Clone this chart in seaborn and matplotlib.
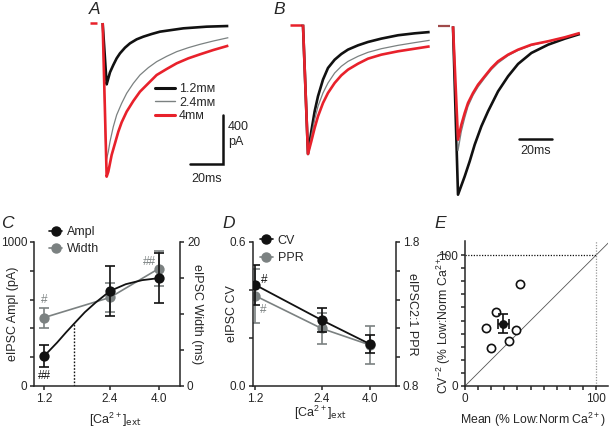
import numpy as np
import pandas as pd
import matplotlib
matplotlib.use('Agg')
import matplotlib.pyplot as plt
import seaborn as sns
from matplotlib.lines import Line2D

sns.set_theme(style='ticks')
plt.rcParams['font.family'] = ['Liberation Sans', 'DejaVu Sans']
plt.rcParams['mathtext.default'] = 'regular'
plt.rcParams['axes.linewidth'] = 1.1
plt.rcParams['xtick.major.width'] = 1.1
plt.rcParams['ytick.major.width'] = 1.1
plt.rcParams['xtick.major.size'] = 3.0
plt.rcParams['ytick.major.size'] = 3.0
plt.rcParams['xtick.labelsize'] = 8.5
plt.rcParams['ytick.labelsize'] = 8.5
plt.rcParams['axes.labelsize'] = 9

BLACK = '#111111'
GRAY = '#7b8181'
RED = '#e8212b'

# ---------------- data ----------------
# Panel A example traces (time ms, current pA)
a_t_12 = [-0.2, 2.22, 3.23, 4.24, 6.26, 8.28, 10.30, 13.33, 16.36, 20.40, 24.44,
          29.49, 34.55, 41.62, 48.69, 62.83, 75.96]
a_i_12 = [0, -500.7, -451.7, -402.7, -342.8, -288.4, -247.6, -201.4, -166.0,
          -133.3, -111.6, -89.8, -70.7, -57.1, -43.5, -29.9, -24.5]
a_t_24 = [-0.2, 1.82, 3.23, 4.24, 6.26, 8.28, 11.31, 14.34, 18.38, 22.42, 27.47,
          32.53, 38.59, 44.65, 51.72, 58.79, 66.87, 75.96]
a_i_24 = [0, -1131.9, -1050.3, -968.7, -846.2, -751.0, -655.8, -574.1, -492.5,
          -424.5, -364.6, -315.6, -272.1, -234.0, -201.4, -174.1, -146.9, -119.7]
a_t_4 = [-0.2, 2.22, 3.23, 4.24, 5.25, 7.27, 9.29, 11.31, 14.34, 18.38, 22.42,
         27.47, 32.53, 38.59, 44.65, 51.72, 58.79, 66.87, 75.96]
a_i_4 = [0, -1254.4, -1213.6, -1145.5, -1077.5, -982.3, -887.1, -810.9, -723.8,
         -636.7, -560.5, -492.5, -424.5, -375.5, -329.2, -288.4, -255.8, -220.4, -185.0]
a_base_t = [-8, -3.5]
a_base_i = [0, 0]
a_labels = ['1.2m\u1d0d', '2.4m\u1d0d', '4m\u1d0d']

# Panel B left: traces normalised to their peak
b_t = [0, 3.03, 5.05, 7.07, 9.09, 12.12, 15.15, 19.19, 23.23, 27.27, 33.33,
       39.39, 47.47, 57.58, 67.68, 76.77]
b_12 = [0, -1.0, -0.825, -0.670, -0.554, -0.425, -0.335, -0.271, -0.227, -0.193,
        -0.160, -0.134, -0.108, -0.082, -0.067, -0.057]
b_24 = [0, -1.0, -0.863, -0.735, -0.631, -0.528, -0.451, -0.374, -0.322, -0.284,
        -0.245, -0.214, -0.186, -0.160, -0.139, -0.121]
b_4 = [0, -1.0, -0.902, -0.799, -0.709, -0.606, -0.528, -0.451, -0.392, -0.348,
       -0.302, -0.263, -0.232, -0.206, -0.186, -0.168]
b_base_t = [-7.9, -0.6]

# Panel B right: traces scaled to match the late decay
c_t_12 = [0, 3.03, 7.07, 10.10, 13.13, 17.17, 21.21, 27.27, 33.33, 39.39, 47.47,
          57.58, 67.68, 76.77]
c_12 = [0, -1.485, -1.324, -1.191, -1.044, -0.882, -0.750, -0.574, -0.441, -0.332,
        -0.235, -0.162, -0.109, -0.068]
c_t = [0, 3.03, 5.05, 7.07, 9.09, 12.12, 15.15, 19.19, 23.23, 27.27, 33.33, 39.39,
       47.47, 57.58, 67.68, 76.77]
c_24 = [0, -1.097, -0.926, -0.809, -0.706, -0.609, -0.535, -0.456, -0.382, -0.324,
        -0.259, -0.212, -0.168, -0.132, -0.097, -0.059]
c_4 = [0, -1.0, -0.868, -0.765, -0.676, -0.588, -0.515, -0.441, -0.368, -0.309,
       -0.250, -0.206, -0.162, -0.132, -0.097, -0.059]
c_base_t = [-9.1, -1.8]

# Panel C
ca = [1.2, 2.4, 4.0]
ampl = [207, 660, 749]
ampl_err = [75, 175, 175]
width = [9.5, 12.3, 16.3]
width_err = [1.4, 2.0, 2.4]
fit_ca = [1.2, 1.377, 1.511, 1.65, 1.84, 2.06, 2.4, 2.83, 3.36, 4.0]
fit_ampl = [207, 302, 372, 435, 512, 579, 660, 707, 735, 749]
ec50 = 1.64
ec50_ampl = 435

# Panel D
cv = [0.421, 0.275, 0.174]
cv_err = [0.083, 0.050, 0.038]
ppr = [1.426, 1.200, 1.084]
ppr_err = [0.186, 0.110, 0.130]

# Panel E
e_mean = [42.2, 23.7, 16.2, 38.6, 33.8, 20.1]
e_cv2 = [78.1, 56.5, 44.2, 42.5, 34.5, 29.1]
e_avg_mean, e_avg_cv2 = 29.3, 47.7
e_avg_mean_err, e_avg_cv2_err = 4.3, 7.2

W, H = 610, 430
fig = plt.figure(figsize=(6.1, 4.3), dpi=100)


def px_axes(x0, y0, x1, y1):
    return fig.add_axes([x0 / W, 1 - y1 / H, (x1 - x0) / W, (y1 - y0) / H])


def trace(ax, t, v, color, lw, label=None):
    sns.lineplot(x=t, y=v, ax=ax, color=color, lw=lw, sort=False,
                 estimator=None, label=label, legend=False,
                 solid_joinstyle='round', solid_capstyle='butt')


# ---------------- Panel A ----------------
axA = px_axes(85, 5, 235, 200)
trace(axA, a_base_t, a_base_i, RED, 1.8)
trace(axA, a_t_12, a_i_12, BLACK, 1.9, a_labels[0])
trace(axA, a_t_24, a_i_24, GRAY, 0.9, a_labels[1])
trace(axA, a_t_4, a_i_4, RED, 1.9, a_labels[2])
axA.set_xlim(-10.9, 80)
axA.set_ylim(-1445, 147)
axA.axis('off')
hA = [Line2D([], [], color=BLACK, lw=2.2), Line2D([], [], color=GRAY, lw=1.0),
      Line2D([], [], color=RED, lw=2.2)]
axA.legend(hA, a_labels, loc='upper left', bbox_to_anchor=(0.465, 0.60),
           frameon=False, fontsize=9, handlelength=1.6, handletextpad=0.35,
           labelspacing=0.12, borderpad=0, borderaxespad=0)
# scale bars: 400 pA, 20 ms
sb_t, sb_i = 72.7, -1151
axA.plot([sb_t - 20, sb_t, sb_t], [sb_i, sb_i, sb_i + 400], color=BLACK, lw=1.8,
         solid_joinstyle='miter')
axA.text(sb_t + 3, sb_i + 240, '400\npA', fontsize=9, ha='left', va='center',
         linespacing=1.25)
axA.text(sb_t - 10, sb_i - 70, '20ms', fontsize=9, ha='center', va='top')

# ---------------- Panel B left ----------------
axB = px_axes(285, 5, 435, 200)
trace(axB, b_base_t, [0, 0], RED, 1.8)
trace(axB, b_t, b_12, BLACK, 1.9)
trace(axB, b_t, b_24, GRAY, 0.9)
trace(axB, b_t, b_4, RED, 1.9)
axB.set_xlim(-10.9, 80)
axB.set_ylim(-1.356, 0.152)
axB.axis('off')

# ---------------- Panel B right ----------------
axB2 = px_axes(435, 5, 600, 200)
trace(axB2, c_base_t, [0, 0], '#a04a4a', 1.6)
trace(axB2, c_t_12, c_12, BLACK, 1.9)
trace(axB2, c_t, c_24, GRAY, 0.9)
trace(axB2, c_t, c_4, RED, 1.9)
axB2.set_xlim(-10.9, 89)
axB2.set_ylim(-1.532, 0.188)
axB2.axis('off')
sb2_t, sb2_v = 39.8, -0.991
axB2.plot([sb2_t, sb2_t + 20], [sb2_v, sb2_v], color=BLACK, lw=1.8)
axB2.text(sb2_t + 10, sb2_v - 0.055, '20ms', fontsize=9, ha='center', va='top')


def style_twin(ax, ax2):
    ax.set_zorder(ax2.get_zorder() + 1)
    ax.patch.set_visible(False)
    for a in (ax, ax2):
        a.spines['top'].set_visible(False)
    ax.spines['right'].set_visible(False)
    ax2.spines['left'].set_visible(False)
    ax2.spines['bottom'].set_visible(False)


ekw = dict(fmt='none', elinewidth=1.2, capsize=3.5, capthick=1.2)
lab_kw = dict(va='center', ha='center', rotation_mode='default')

# ---------------- Panel C ----------------
axC = px_axes(34, 242, 180, 386)
axC2 = axC.twinx()
style_twin(axC, axC2)
for a in (axC, axC2):
    a.set_xscale('log')
    a.set_xlim(1.08, 5.0)
axC.set_ylim(0, 1000)
axC2.set_ylim(0, 20)
# Width (gray, right axis)
sns.lineplot(x=ca, y=width, ax=axC2, color=GRAY, lw=1.2, legend=False)
axC2.errorbar(ca, width, yerr=width_err, ecolor=GRAY, **ekw)
sns.scatterplot(x=ca, y=width, ax=axC2, color=GRAY, s=55, edgecolor=GRAY,
                linewidth=0, zorder=5)
# Ampl (black, left axis)
sns.lineplot(x=fit_ca, y=fit_ampl, ax=axC, color=BLACK, lw=1.3, legend=False)
axC.plot([ec50, ec50], [0, ec50_ampl], ls=(0, (1.2, 1.2)), color=BLACK, lw=1.0)
axC.errorbar(ca, ampl, yerr=ampl_err, ecolor=BLACK, **ekw)
sns.scatterplot(x=ca, y=ampl, ax=axC, color=BLACK, s=55, edgecolor=BLACK,
                linewidth=0, zorder=5)
axC.set_xticks(ca)
axC.set_xticklabels(['1.2', '2.4', '4.0'])
axC.xaxis.set_minor_locator(matplotlib.ticker.NullLocator())
axC2.xaxis.set_minor_locator(matplotlib.ticker.NullLocator())
axC.set_yticks([0, 200, 400, 600, 800, 1000])
axC.set_yticklabels(['0', '', '', '', '', '1000'])
axC2.set_yticks([0, 5, 10, 15, 20])
axC2.set_yticklabels(['0', '', '', '', '20'])
axC.tick_params(pad=2)
axC2.tick_params(pad=2)
axC.set_xlabel(r'[Ca$^{2+}$]$_{\rm ext}$', **lab_kw)
axC.xaxis.set_label_coords(0.555, -0.235)
axC.set_ylabel('eIPSC Ampl (pA)', **lab_kw)
axC.yaxis.set_label_coords(-0.144, 0.5)
axC2.set_ylabel('eIPSC Width (ms)', rotation=270, **lab_kw)
axC2.yaxis.set_label_coords(1.116, 0.5)
axC.text(1.2, 70, '##', ha='center', va='center', fontsize=8.5, color=BLACK)
axC.text(1.2, 598, '#', ha='center', va='center', fontsize=8.5, color=GRAY)
axC.text(3.62, 858, '##', ha='center', va='center', fontsize=8.5, color=GRAY)
hC = [Line2D([], [], color=BLACK, lw=1.2, marker='o', markersize=6.5),
      Line2D([], [], color=GRAY, lw=1.2, marker='o', markersize=6.5)]
axC.legend(hC, ['Ampl', 'Width'], loc='upper left', bbox_to_anchor=(0.105, 1.11),
           frameon=False, fontsize=9, handlelength=1.0, handletextpad=0.4,
           labelspacing=0.4, borderpad=0, borderaxespad=0)

# ---------------- Panel D ----------------
axD = px_axes(253, 242, 396, 386)
axD2 = axD.twinx()
style_twin(axD, axD2)
for a in (axD, axD2):
    a.set_xscale('log')
    a.set_xlim(1.17, 5.24)
axD.set_ylim(0, 0.6)
axD2.set_ylim(0.8, 1.8)
sns.lineplot(x=ca, y=ppr, ax=axD2, color=GRAY, lw=1.2, legend=False)
axD2.errorbar(ca, ppr, yerr=ppr_err, ecolor=GRAY, **ekw)
sns.scatterplot(x=ca, y=ppr, ax=axD2, color=GRAY, s=55, edgecolor=GRAY,
                linewidth=0, zorder=5)
sns.lineplot(x=ca, y=cv, ax=axD, color=BLACK, lw=1.3, legend=False)
axD.errorbar(ca, cv, yerr=cv_err, ecolor=BLACK, **ekw)
sns.scatterplot(x=ca, y=cv, ax=axD, color=BLACK, s=55, edgecolor=BLACK,
                linewidth=0, zorder=5)
axD.set_xticks(ca)
axD.set_xticklabels(['1.2', '2.4', '4.0'])
axD.xaxis.set_minor_locator(matplotlib.ticker.NullLocator())
axD2.xaxis.set_minor_locator(matplotlib.ticker.NullLocator())
axD.set_yticks([0, 0.2, 0.4, 0.6])
axD.set_yticklabels(['0.0', '', '', '0.6'])
axD2.set_yticks([0.8, 1.0, 1.2, 1.4, 1.6, 1.8])
axD2.set_yticklabels(['0.8', '', '', '', '', '1.8'])
axD.tick_params(pad=2)
axD2.tick_params(pad=2)
axD.set_xlabel(r'[Ca$^{2+}$]$_{\rm ext}$', **lab_kw)
axD.xaxis.set_label_coords(0.47, -0.19)
axD.set_ylabel('eIPSC CV', **lab_kw)
axD.yaxis.set_label_coords(-0.147, 0.5)
axD2.set_ylabel('eIPSC2:1 PPR', rotation=270, **lab_kw)
axD2.yaxis.set_label_coords(1.112, 0.5)
axD.text(1.31, 0.442, '#', ha='center', va='center', fontsize=8.5, color=BLACK)
axD.text(1.30, 0.317, '#', ha='center', va='center', fontsize=8.5, color=GRAY)
hD = [Line2D([], [], color=BLACK, lw=1.2, marker='o', markersize=6.5),
      Line2D([], [], color=GRAY, lw=1.2, marker='o', markersize=6.5)]
axD.legend(hD, ['CV', 'PPR'], loc='upper left', bbox_to_anchor=(0.05, 1.05),
           frameon=False, fontsize=9, handlelength=1.0, handletextpad=0.4,
           labelspacing=0.45, borderpad=0, borderaxespad=0)

# ---------------- Panel E ----------------
axE = px_axes(465, 241, 608, 386)
axE.set_xlim(0, 109)
axE.set_ylim(0, 110.7)
axE.plot([0, 110], [0, 110], color='#555555', lw=0.6)
axE.plot([0, 100], [100, 100], color=BLACK, lw=0.9, ls=(0, (1, 1.2)))
axE.plot([100, 100], [0, 111], color='#999999', lw=0.9, ls=(0, (1, 1.2)))
sns.scatterplot(x=e_mean, y=e_cv2, ax=axE, facecolor='white', edgecolor=BLACK,
                s=35, linewidth=1.2, zorder=4)
axE.errorbar([e_avg_mean], [e_avg_cv2], xerr=[e_avg_mean_err], yerr=[e_avg_cv2_err],
             ecolor=BLACK, zorder=5, **ekw)
sns.scatterplot(x=[e_avg_mean], y=[e_avg_cv2], ax=axE, color=BLACK, s=40,
                linewidth=0, zorder=6)
axE.set_xticks(range(0, 101, 10))
axE.set_xticklabels(['0'] + [''] * 9 + ['100'])
axE.set_yticks(range(0, 101, 10))
axE.set_yticklabels(['0'] + [''] * 9 + ['100'])
axE.tick_params(pad=2)
sns.despine(ax=axE)
axE.set_xlabel(r'Mean (% Low:Norm Ca$^{2+}$)', fontsize=8.8, **lab_kw)
axE.xaxis.set_label_coords(0.476, -0.235)
axE.set_ylabel(r'CV$^{-2}$ (% Low:Norm Ca$^{2+}$)', fontsize=8.8, **lab_kw)
axE.yaxis.set_label_coords(-0.15, 0.44)

# panel letters
for lab, x, y in [('A', 95, 10), ('B', 279, 10), ('C', 7, 223), ('D', 229, 223),
                  ('E', 440, 224)]:
    fig.text(x / W, 1 - y / H, lab, fontsize=12.5, style='italic', ha='center',
             va='center')

fig.savefig('out.png', dpi=100)
